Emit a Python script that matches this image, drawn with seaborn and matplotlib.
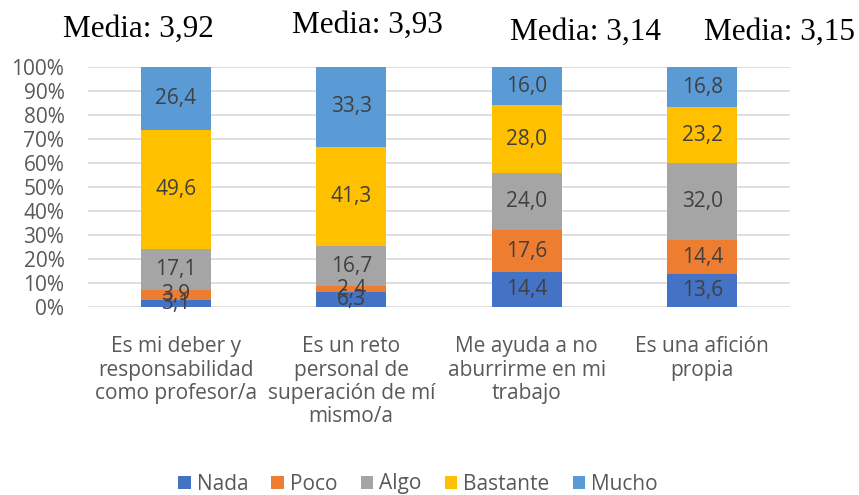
import numpy as np
import pandas as pd
import matplotlib
matplotlib.use("Agg")
import matplotlib.pyplot as plt
from matplotlib.patches import Patch
import seaborn as sns

categories = ["Es mi deber y\nresponsabilidad\ncomo profesor/a",
              "Es un reto\npersonal de\nsuperación de mí\nmismo/a",
              "Me ayuda a no\naburrirme en mi\ntrabajo",
              "Es una afición\npropia"]
series_names = ["Nada", "Poco", "Algo", "Bastante", "Mucho"]
nada = [3.1, 6.3, 14.4, 13.6]
poco = [3.9, 2.4, 17.6, 14.4]
algo = [17.1, 16.7, 24.0, 32.0]
bastante = [49.6, 41.3, 28.0, 23.2]
mucho = [26.4, 33.3, 16.0, 16.8]
medias = ["Media: 3,92", "Media: 3,93", "Media: 3,14", "Media: 3,15"]
yticks = [0, 10, 20, 30, 40, 50, 60, 70, 80, 90, 100]

colors = ["#4472C4", "#ED7D31", "#A5A5A5", "#FFC000", "#5B9BD5"]
series = [nada, poco, algo, bastante, mucho]

sns.set_theme(style="white")
plt.rcParams['font.family'] = ['Open Sans', 'DejaVu Sans']

fig = plt.figure(figsize=(8.59, 4.95), dpi=100)
ax = fig.add_axes([88/859, 1-307/495, (790-88)/859, 240/495])

vals = np.array(series)
cum = np.cumsum(vals, axis=0)
bottoms = cum - vals

for i in reversed(range(len(series))):
    df = pd.DataFrame({"cat": categories, "v": cum[i]})
    sns.barplot(data=df, x="cat", y="v", color=colors[i], width=0.4,
                ax=ax, saturation=1, linewidth=0, edgecolor="none")

for i in range(len(series)):
    for j in range(len(categories)):
        v = vals[i, j]
        ax.text(j, bottoms[i, j] + v/2, f"{v:.1f}".replace(".", ","),
                ha="center", va="center", fontsize=15, color="#404040")

ax.set_ylim(0, 100)
ax.set_xlim(-0.5, 3.5)
ax.set_yticks(yticks)
ax.set_yticklabels([f"{t}%" for t in yticks])
ax.yaxis.grid(True, color="#D9D9D9", linewidth=1.2)
ax.set_axisbelow(True)
for s in ax.spines.values():
    s.set_visible(False)
ax.tick_params(axis="y", length=0, pad=17, labelsize=15, labelcolor="#595959")
ax.tick_params(axis="x", length=0, pad=21, labelsize=15, labelcolor="#595959")
for lbl in ax.get_xticklabels():
    lbl.set_linespacing(1.15)
ax.set_xlabel("")
ax.set_ylabel("")

title_pos = [(138, 37), (367, 33), (585, 40), (779, 40)]
for t, (x, y) in zip(medias, title_pos):
    fig.text(x/859, 1-y/495, t, ha="center", va="baseline",
             family="Liberation Serif", fontsize=22.5, color="black")

handles = [Patch(facecolor=c, edgecolor="none") for c in colors]
fig.legend(handles, series_names, loc="center", bbox_to_anchor=(418/859, 1-484/495),
           ncol=5, frameon=False, fontsize=15, handlelength=0.6, handleheight=0.6,
           handletextpad=0.3, columnspacing=1.1, labelcolor="#595959")

fig.savefig("out.png", dpi=100)
